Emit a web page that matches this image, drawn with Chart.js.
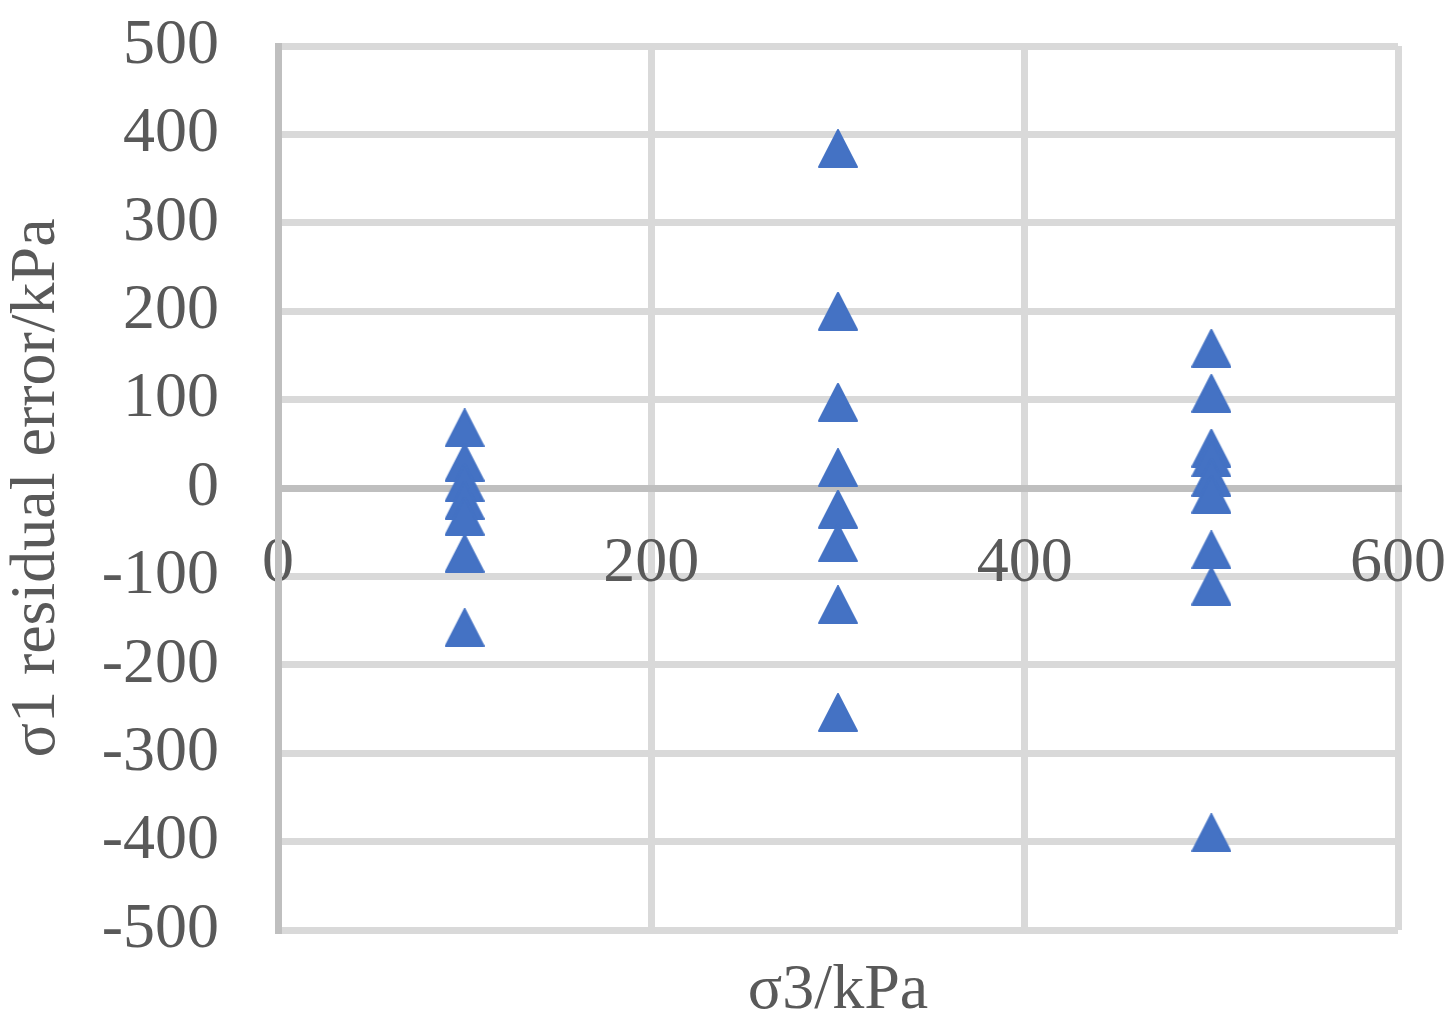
<!DOCTYPE html>
<html>
<head>
<meta charset="utf-8">
<script src="https://cdn.jsdelivr.net/npm/chart.js@4/dist/chart.umd.min.js"></script>
<style>
    html, body { margin: 0; padding: 0; background: #ffffff; }
    #wrap { width: 1456px; height: 1023px; position: relative; }
</style>
</head>
<body>
<div id="wrap"><canvas id="residual"></canvas></div>
<script>
// sigma3 levels and residuals
var sigma3Levels = [100, 300, 500];
var residuals100 = [68, 29, 6, -14, -32, -74, -158];
var residuals300 = [384, 200, 97, 23, -24, -62, -132, -254];
var residuals500 = [158, 107, 45, 34, 12, -7, -70, -111, -390];
var xTicks = [0, 200, 400, 600];
var yTicks = [-500, -400, -300, -200, -100, 0, 100, 200, 300, 400, 500];

var blue = "#4472c4";
var textGrey = "#595959";
var fontFamily = "'Liberation Serif', 'Times New Roman', serif";

// Excel-like triangle marker (centred on the point)
function makeTriangle() {
    var c = document.createElement("canvas");
    c.width = 40;
    c.height = 39;
    var g = c.getContext("2d");
    g.fillStyle = blue;
    g.strokeStyle = blue;
    g.lineWidth = 2;
    g.lineJoin = "round";
    g.beginPath();
    g.moveTo(20, 1);
    g.lineTo(39, 38);
    g.lineTo(1, 38);
    g.closePath();
    g.fill();
    g.stroke();
    return c;
}

function toPoints(x, values) {
    return values.map(function (v) { return { x: x, y: v }; });
}

// labels may overflow the plot edges; layout padding alone sets the plot box
function noPadding(scale) {
    scale.paddingTop = 0;
    scale.paddingBottom = 0;
    scale.paddingLeft = 0;
    scale.paddingRight = 0;
}

var allPoints = []
    .concat(toPoints(sigma3Levels[0], residuals100))
    .concat(toPoints(sigma3Levels[1], residuals300))
    .concat(toPoints(sigma3Levels[2], residuals500));

document.addEventListener("DOMContentLoaded", function () {
    var ctx = document.getElementById("residual").getContext("2d");
    var marker = makeTriangle();
    new Chart(ctx, {
        type: "scatter",
        data: {
            datasets: [
                {
                    data: allPoints,
                    pointStyle: marker,
                    pointRadius: 20,
                    pointHoverRadius: 20,
                    backgroundColor: blue,
                    borderColor: blue,
                },
            ],
        },
        options: {
            responsive: true,
            maintainAspectRatio: false,
            animation: false,
            layout: {
                padding: { left: 0, top: 46, right: 58, bottom: 0 },
            },
            scales: {
                x: {
                    type: "linear",
                    position: "bottom",
                    min: 0,
                    max: 600,
                    afterBuildTicks: function (scale) {
                        scale.ticks = xTicks.map(function (v) { return { value: v }; });
                    },
                    afterFit: function (scale) {
                        scale.height = 93;
                        noPadding(scale);
                    },
                    grid: {
                        color: "#d9d9d9",
                        lineWidth: 7,
                        drawTicks: false,
                    },
                    border: { display: false },
                    ticks: { display: false },
                    title: {
                        display: true,
                        text: "σ3/kPa",
                        color: textGrey,
                        padding: 0,
                        font: { family: fontFamily, size: 64, lineHeight: 1 },
                    },
                },
                x0: {
                    type: "linear",
                    axis: "x",
                    position: { y: 0 },
                    min: 0,
                    max: 600,
                    afterBuildTicks: function (scale) {
                        scale.ticks = xTicks.map(function (v) { return { value: v }; });
                    },
                    afterFit: noPadding,
                    grid: {
                        color: "rgba(0,0,0,0)",
                        lineWidth: 7,
                        drawTicks: false,
                    },
                    border: { display: true, color: "#bfbfbf", width: 7 },
                    ticks: {
                        color: textGrey,
                        padding: 44,
                        maxRotation: 0,
                        autoSkip: false,
                        font: { family: fontFamily, size: 64, lineHeight: 1 },
                    },
                },
                y: {
                    type: "linear",
                    position: "left",
                    min: -500,
                    max: 500,
                    afterBuildTicks: function (scale) {
                        scale.ticks = yTicks.map(function (v) { return { value: v }; });
                    },
                    afterFit: function (scale) {
                        scale.width = 278;
                        noPadding(scale);
                    },
                    grid: {
                        color: "#d9d9d9",
                        lineWidth: 7,
                        drawTicks: false,
                    },
                    border: { display: true, color: "#bfbfbf", width: 7 },
                    ticks: {
                        color: textGrey,
                        padding: 59,
                        autoSkip: false,
                        font: { family: fontFamily, size: 64, lineHeight: 1 },
                    },
                    title: {
                        display: true,
                        text: "σ1 residual error/kPa",
                        color: textGrey,
                        padding: 0,
                        font: { family: fontFamily, size: 64, lineHeight: 1.15 },
                    },
                },
            },
            plugins: {
                legend: { display: false },
                tooltip: { enabled: false },
            },
        },
    });
});
</script>
</body>
</html>
